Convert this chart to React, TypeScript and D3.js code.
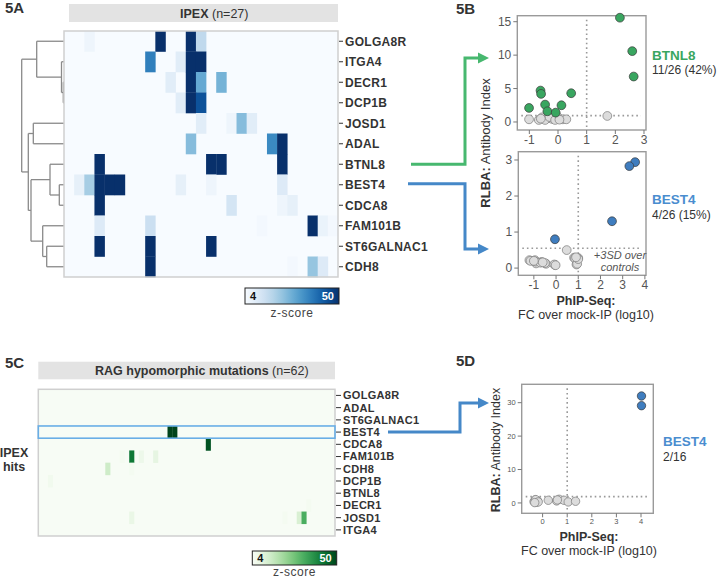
import React from 'react';
import * as d3 from 'd3';

const FONT = "'Liberation Sans', Arial, Helvetica, sans-serif";

// ---------- 5A data ----------
const ipexGenes = ['GOLGA8R', 'ITGA4', 'DECR1', 'DCP1B', 'JOSD1', 'ADAL', 'BTNL8', 'BEST4', 'CDCA8', 'FAM101B', 'ST6GALNAC1', 'CDH8'];
const ipexSampleCount = 27;
// [gene, sample column, z-score]
const ipexCells: [string, number, number][] = [
  ['GOLGA8R', 2, 6], ['GOLGA8R', 9, 50], ['GOLGA8R', 12, 50], ['GOLGA8R', 13, 16],
  ['ITGA4', 8, 36], ['ITGA4', 11, 9], ['ITGA4', 12, 50], ['ITGA4', 13, 50],
  ['DECR1', 10, 9], ['DECR1', 12, 50], ['DECR1', 13, 28], ['DECR1', 15, 26],
  ['DCP1B', 11, 9], ['DCP1B', 12, 50], ['DCP1B', 13, 44],
  ['JOSD1', 13, 9], ['JOSD1', 16, 6], ['JOSD1', 17, 24], ['JOSD1', 18, 9],
  ['ADAL', 12, 24], ['ADAL', 20, 34], ['ADAL', 21, 50],
  ['BTNL8', 3, 50], ['BTNL8', 14, 50], ['BTNL8', 15, 50], ['BTNL8', 21, 50],
  ['BEST4', 1, 8], ['BEST4', 2, 20], ['BEST4', 3, 50], ['BEST4', 4, 50], ['BEST4', 5, 50], ['BEST4', 11, 8], ['BEST4', 14, 6], ['BEST4', 21, 10],
  ['CDCA8', 3, 50], ['CDCA8', 16, 12], ['CDCA8', 21, 6], ['CDCA8', 22, 8],
  ['FAM101B', 3, 10], ['FAM101B', 8, 14], ['FAM101B', 19, 5], ['FAM101B', 24, 50], ['FAM101B', 25, 7], ['FAM101B', 26, 5],
  ['ST6GALNAC1', 3, 50], ['ST6GALNAC1', 8, 50], ['ST6GALNAC1', 14, 50],
  ['CDH8', 8, 50], ['CDH8', 22, 5], ['CDH8', 24, 22], ['CDH8', 25, 10],
];
type Tree = string | { h: number; c: Tree[] };
const ipexDendrogram: Tree = {
  h: 42.3, c: [
    { h: 27.3, c: ['GOLGA8R', { h: 2.5, c: ['ITGA4', { h: 0.7, c: ['DECR1', 'DCP1B'] }] }] },
    { h: 35.7, c: [
      { h: 30.7, c: ['JOSD1', 'ADAL'] },
      { h: 33, c: [
        { h: 14, c: ['BTNL8', { h: 4.7, c: ['BEST4', 'CDCA8'] }] },
        { h: 21.3, c: ['FAM101B', { h: 17.3, c: ['ST6GALNAC1', 'CDH8'] }] },
      ] },
    ] },
  ],
};

// ---------- 5C data ----------
const ragGenes = ['GOLGA8R', 'ADAL', 'ST6GALNAC1', 'BEST4', 'CDCA8', 'FAM101B', 'CDH8', 'DCP1B', 'BTNL8', 'DECR1', 'JOSD1', 'ITGA4'];
const ragSampleCount = 62;
const ragCells: [string, number, number][] = [
  ['BEST4', 27, 50], ['BEST4', 28, 50],
  ['CDCA8', 35, 48],
  ['FAM101B', 17, 5], ['FAM101B', 19, 42], ['FAM101B', 21, 7], ['FAM101B', 24, 9],
  ['CDH8', 14, 14], ['CDH8', 19, 5],
  ['DCP1B', 2, 6],
  ['DECR1', 56, 5],
  ['JOSD1', 19, 8], ['JOSD1', 51, 5], ['JOSD1', 54, 12], ['JOSD1', 55, 32],
];

// ---------- 5B / 5D scatter data: [PhIP-Seq log10 FC, RLBA antibody index] ----------
const btnl8Pos: [number, number][] = [[2.16, 15.6], [2.59, 10.6], [2.64, 6.8], [0.46, 4.3], [-0.61, 4.7], [-0.59, 4.2], [-1.01, 2.1], [-0.45, 2.6], [0.12, 2.5], [-0.37, 1.6], [-0.08, 1.4]];
const btnl8Neg: [number, number][] = [[-1.01, 0.4], [-0.67, 0.3], [-0.55, 0.7], [-0.37, 0.55], [-0.2, 0.45], [-0.14, 0.8], [0.0, 0.7], [0.17, 0.4], [0.29, 0.4], [1.72, 0.9], [-0.45, 0.3], [-0.3, 0.75], [-0.1, 0.3], [0.05, 0.35], [-0.6, 0.5]];
const best4Pos: [number, number][] = [[3.56, 2.94], [3.3, 2.83], [2.52, 1.3], [-0.05, 0.8]];
const best4Neg: [number, number][] = [[-1.2, 0.22], [-0.95, 0.22], [-0.9, 0.13], [-0.65, 0.17], [-0.45, 0.12], [-0.05, 0.09], [0.48, 0.5], [0.81, 0.29], [1.0, 0.28], [0.92, 0.1], [-1.15, 0.2], [-0.92, 0.18], [-0.7, 0.15], [-0.5, 0.14], [-0.08, 0.1], [0.85, 0.27], [0.95, 0.12], [1.0, 0.25], [-1.0, 0.2], [-0.6, 0.16], [0.9, 0.3], [-0.02, 0.08]];
const ragBest4Pos: [number, number][] = [[4.02, 32.0], [4.02, 29.1]];
const ragBest4Neg: [number, number][] = [[-0.35, 0.4], [-0.3, 0.9], [-0.25, 0.2], [-0.2, 0.6], [-0.28, 1.0], [-0.18, 0.3], [0.23, 0.8], [0.57, 0.6], [0.67, 1.1], [0.87, 0.8], [1.04, 0.3], [1.34, 0.5], [-0.32, 0.1], [0.6, 0.9]];

const ticksBTop = { x: [-1, 0, 1, 2, 3], y: [0, 5, 10, 15] };
const ticksBBot = { x: [-1, 0, 1, 2, 3, 4], y: [0, 1, 2, 3] };
const ticksD = { x: [0, 1, 2, 3, 4], y: [0, 10, 20, 30] };
const cutoffs = { bTop: [1, 0.95], bBot: [1, 0.55], d: [1, 1.9] };

const GREEN = '#39a660';
const GREEN_ARROW = '#47b86f';
const BLUE = '#3f7dbf';
const BLUE_LABEL = '#4a8dcf';
const BLUE_ARROW = '#4588c8';

const blues = d3.scaleSequential(d3.interpolateBlues).domain([4, 50]).clamp(true);
const greens = d3.scaleSequential(d3.interpolateGreens).domain([4, 50]).clamp(true);

function Heatmap({ genes, count, cells, color, x0, x1, y0, y1, labelSize, tickLen }: any) {
  const xs = d3.scaleBand<number>().domain(d3.range(count)).range([x0, x1]);
  const ys = d3.scaleBand<string>().domain(genes).range([y0, y1]);
  return (
    <g>
      <rect x={x0} y={y0} width={x1 - x0} height={y1 - y0} fill={color(4)} />
      {cells.map(([g, c, z]: [string, number, number], i: number) => (
        <rect key={i} x={xs(c)} y={ys(g)} width={xs.bandwidth() + 0.3} height={ys.bandwidth() + 0.3} fill={color(z)} />
      ))}
      <rect x={x0} y={y0} width={x1 - x0} height={y1 - y0} fill="none" stroke="#cfcfcf" strokeWidth={1.5} />
      {genes.map((g: string) => (
        <g key={g}>
          <line x1={x1 + 1} x2={x1 + 1 + tickLen} y1={ys(g)! + ys.bandwidth() / 2} y2={ys(g)! + ys.bandwidth() / 2} stroke="#333" strokeWidth={1} />
          <text x={x1 + tickLen + 3} y={ys(g)! + ys.bandwidth() / 2} dy="0.36em" fontSize={labelSize} fontWeight="bold" fill="#333" letterSpacing={0.3}>{g}</text>
        </g>
      ))}
    </g>
  );
}

function Dendrogram({ tree, ys, xScale }: any) {
  const segs: [number, number, number, number][] = [];
  const walk = (t: Tree): { x: number; y: number } => {
    if (typeof t === 'string') return { x: xScale(0), y: ys(t) + ys.bandwidth() / 2 };
    const kids = t.c.map(walk);
    const nx = xScale(t.h);
    kids.forEach(k => segs.push([nx, k.y, k.x, k.y]));
    segs.push([nx, kids[0].y, nx, kids[kids.length - 1].y]);
    return { x: nx, y: (kids[0].y + kids[kids.length - 1].y) / 2 };
  };
  walk(tree);
  return (
    <g stroke="#8a8a8a" strokeWidth={1.3} fill="none">
      {segs.map((s, i) => <line key={i} x1={s[0]} y1={s[1]} x2={s[2]} y2={s[3]} />)}
    </g>
  );
}

function ColorBar({ id, interp, x, y, w, h, labelGap }: any) {
  const stops = d3.range(0, 1.0001, 0.1);
  return (
    <g>
      <defs>
        <linearGradient id={id} x1="0" x2="1" y1="0" y2="0">
          {stops.map(s => <stop key={s} offset={s} stopColor={interp(s)} />)}
        </linearGradient>
      </defs>
      <rect x={x} y={y} width={w} height={h} fill={`url(#${id})`} stroke="#222" strokeWidth={1} />
      <text x={x + 5} y={y + h / 2} dy="0.36em" fontSize={11} fontWeight="bold" fill="#111">4</text>
      <text x={x + w - 5} y={y + h / 2} dy="0.36em" fontSize={11} fontWeight="bold" fill="#fff" textAnchor="end">50</text>
      <text x={x + w / 2} y={y + h + labelGap} fontSize={12} fill="#444" textAnchor="middle" letterSpacing={0.5}>z-score</text>
    </g>
  );
}

function Scatter({ xd, yd, xr, yr, ticks, pos, neg, posColor, cut, tickSize, r }: any) {
  const xs = d3.scaleLinear().domain(xd).range(xr);
  const ys = d3.scaleLinear().domain(yd).range(yr);
  const [l, rr] = xr;
  const [b, t] = yr;
  return (
    <g>
      <rect x={l} y={t} width={rr - l} height={b - t} fill="#fff" stroke="#9a9a9a" strokeWidth={1.4} />
      {ticks.y.map((v: number) => (
        <g key={'y' + v}>
          <line x1={l - 4} x2={l} y1={ys(v)} y2={ys(v)} stroke="#777" />
          <text x={l - 6} y={ys(v)} dy="0.35em" textAnchor="end" fontSize={tickSize} fill="#555">{v}</text>
        </g>
      ))}
      {ticks.x.map((v: number) => (
        <g key={'x' + v}>
          <line x1={xs(v)} x2={xs(v)} y1={b} y2={b + 4} stroke="#777" />
          <text x={xs(v)} y={b + 4.5 + tickSize * 0.8} textAnchor="middle" fontSize={tickSize} fill="#555">{v}</text>
        </g>
      ))}
      <line x1={xs(cut[0])} x2={xs(cut[0])} y1={t + 4} y2={b - 3} stroke="#999" strokeWidth={1.6} strokeDasharray="1.6,3" />
      <line x1={l + 4} x2={rr - 5} y1={ys(cut[1])} y2={ys(cut[1])} stroke="#999" strokeWidth={1.6} strokeDasharray="1.6,3" />
      {neg.map((p: [number, number], i: number) => (
        <circle key={'n' + i} cx={xs(p[0])} cy={ys(p[1])} r={r} fill="#dcdcdc" stroke="#7a7a7a" strokeWidth={0.7} />
      ))}
      {pos.map((p: [number, number], i: number) => (
        <circle key={'p' + i} cx={xs(p[0])} cy={ys(p[1])} r={r} fill={posColor} stroke="#3a3a3a" strokeWidth={0.7} />
      ))}
    </g>
  );
}

function Arrow({ pts, color }: { pts: [number, number][]; color: string }) {
  const last = pts[pts.length - 1];
  const line = d3.line();
  return (
    <g>
      <path d={line([...pts.slice(0, -1), [last[0] - 9, last[1]]])!} fill="none" stroke={color} strokeWidth={3} />
      <path d={`M${last[0]},${last[1]} L${last[0] - 11},${last[1] - 5.5} L${last[0] - 11},${last[1] + 5.5} Z`} fill={color} />
    </g>
  );
}

export default function App() {
  const A = { x0: 64, x1: 338, y0: 31, y1: 277 };
  const ysA = d3.scaleBand<string>().domain(ipexGenes).range([A.y0, A.y1]);
  const dendX = d3.scaleLinear().domain([0, 42.3]).range([A.x0, 21.7]);
  const C = { x0: 38.3, x1: 335, y0: 389.3, y1: 536 };
  const ysC = d3.scaleBand<string>().domain(ragGenes).range([C.y0, C.y1]);
  const rowMid = (s: any, g: string) => s(g) + s.bandwidth() / 2;

  return (
    <div style={{ position: 'absolute', left: 0, top: 0 }}>
      <svg width={720} height={578} style={{ display: 'block', fontFamily: FONT }}>
        <rect width={720} height={578} fill="#fff" />
        <text x={5} y={13} fontSize={15} fontWeight="bold" fill="#333">5A</text>
        <text x={456} y={14} fontSize={15} fontWeight="bold" fill="#333">5B</text>
        <text x={5} y={368} fontSize={15} fontWeight="bold" fill="#333">5C</text>
        <text x={456} y={366} fontSize={15} fontWeight="bold" fill="#333">5D</text>

        {/* 5A */}
        <rect x={69} y={4} width={269} height={18} fill="#e3e3e3" />
        <text x={180} y={17.5} fontSize={12.5} fill="#333"><tspan fontWeight="bold">IPEX</tspan> (n=27)</text>
        <Dendrogram tree={ipexDendrogram} ys={ysA} xScale={dendX} />
        <Heatmap genes={ipexGenes} count={ipexSampleCount} cells={ipexCells} color={blues} {...A} labelSize={12} tickLen={4} />
        <ColorBar id="gradBlue" interp={(t: number) => blues(4 + t * 46)} x={245} y={288} w={94} h={16} labelGap={13} />

        {/* 5B */}
        <Scatter xd={[-1.42, 3.07]} yd={[-1.2, 15.9]} xr={[517.3, 646]} yr={[130, 15.7]} ticks={ticksBTop}
          pos={btnl8Pos} neg={btnl8Neg} posColor={GREEN} cut={cutoffs.bTop} tickSize={12} r={4.4} />
        <Scatter xd={[-1.7, 4.05]} yd={[-0.2, 3.23]} xr={[518.3, 646]} yr={[275.3, 151.7]} ticks={ticksBBot}
          pos={best4Pos} neg={best4Neg} posColor={BLUE} cut={cutoffs.bBot} tickSize={12} r={4.4} />
        <text x={620} y={259} fontSize={11} fontStyle="italic" fill="#555" textAnchor="middle">+3SD over</text>
        <text x={620} y={271} fontSize={11} fontStyle="italic" fill="#555" textAnchor="middle">controls</text>
        <text transform="translate(490,143) rotate(-90)" fontSize={13} fill="#333" textAnchor="middle"><tspan fontWeight="bold">RLBA:</tspan> Antibody Index</text>
        <text x={586} y={305} fontSize={12.5} fontWeight="bold" fill="#333" textAnchor="middle">PhIP-Seq:</text>
        <text x={586} y={318.5} fontSize={12.5} fill="#333" textAnchor="middle">FC over mock-IP (log10)</text>
        <text x={652} y={60} fontSize={13.5} fontWeight="bold" fill={GREEN}>BTNL8</text>
        <text x={652} y={74} fontSize={12} fill="#333">11/26 (42%)</text>
        <text x={652} y={204} fontSize={13.5} fontWeight="bold" fill={BLUE_LABEL}>BEST4</text>
        <text x={652} y={219} fontSize={12} fill="#333">4/26 (15%)</text>

        <Arrow color={GREEN_ARROW} pts={[[411, rowMid(ysA, 'BTNL8')], [465, rowMid(ysA, 'BTNL8')], [465, 58], [489, 58]]} />
        <Arrow color={BLUE_ARROW} pts={[[408, rowMid(ysA, 'BEST4') - 1], [465, rowMid(ysA, 'BEST4') - 1], [465, 249], [489, 249]]} />

        {/* 5C */}
        <rect x={38.3} y={361.7} width={296.7} height={17.6} fill="#e3e3e3" />
        <text x={95} y={375} fontSize={12.5} fill="#333"><tspan fontWeight="bold">RAG hypomorphic mutations</tspan> (n=62)</text>
        <Heatmap genes={ragGenes} count={ragSampleCount} cells={ragCells} color={greens} {...C} labelSize={11} tickLen={5} />
        <rect x={C.x0} y={ysC('BEST4')} width={C.x1 - C.x0} height={ysC.bandwidth()} fill="none" stroke="#69aee6" strokeWidth={1.6} />
        <text x={14} y={457} fontSize={12.5} fontWeight="bold" fill="#333" textAnchor="middle">IPEX</text>
        <text x={14} y={470.5} fontSize={12.5} fontWeight="bold" fill="#333" textAnchor="middle">hits</text>
        <ColorBar id="gradGreen" interp={(t: number) => greens(4 + t * 46)} x={252.3} y={551} w={84.4} h={14} labelGap={10.5} />

        {/* 5D */}
        <Scatter xd={[-0.85, 4.5]} yd={[-3.1, 35.5]} xr={[521.7, 653.3]} yr={[513.3, 384.3]} ticks={ticksD}
          pos={ragBest4Pos} neg={ragBest4Neg} posColor={BLUE} cut={cutoffs.d} tickSize={7.5} r={4.2} />
        <text transform="translate(500,450) rotate(-90)" fontSize={12.5} fill="#333" textAnchor="middle"><tspan fontWeight="bold">RLBA:</tspan> Antibody Index</text>
        <text x={589} y={541} fontSize={12.5} fontWeight="bold" fill="#333" textAnchor="middle">PhIP-Seq:</text>
        <text x={589} y={554.5} fontSize={12.5} fill="#333" textAnchor="middle">FC over mock-IP (log10)</text>
        <text x={663} y={446} fontSize={13.5} fontWeight="bold" fill={BLUE_LABEL}>BEST4</text>
        <text x={663} y={461} fontSize={12} fill="#333">2/16</text>
        <Arrow color={BLUE_ARROW} pts={[[388, rowMid(ysC, 'BEST4')], [460, rowMid(ysC, 'BEST4')], [460, 403], [489, 403]]} />
      </svg>
    </div>
  );
}
